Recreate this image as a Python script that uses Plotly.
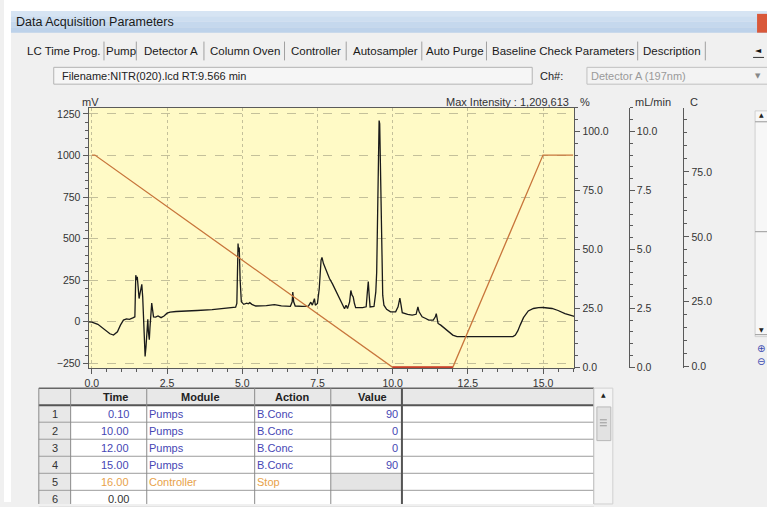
import plotly.graph_objects as go

W, H = 767, 507

# ---------------- data ----------------
chrom_time = [-0.11, 0.0, 0.2, 0.4, 0.6, 0.72, 0.85, 0.95, 1.05, 1.15, 1.25, 1.38, 1.43, 1.46, 1.49, 1.51,
              1.54, 1.57, 1.6, 1.66, 1.69, 1.73, 1.77, 1.8, 1.84, 1.86, 1.88, 1.91, 1.93, 1.96, 1.99,
              2.02, 2.05, 2.12, 2.2, 2.3, 2.4, 2.5, 2.6, 2.8, 3.0, 3.5, 4.0, 4.5, 4.78, 4.82, 4.86,
              4.88, 4.9, 4.93, 4.97, 5.05, 5.15, 5.2, 5.25, 5.32, 5.45, 5.8, 6.07, 6.3, 6.6, 6.66,
              6.68, 6.71, 6.76, 7.0, 7.2, 7.28, 7.33, 7.4, 7.43, 7.5, 7.56, 7.62, 7.65, 7.7, 7.8,
              7.9, 8.0, 8.15, 8.3, 8.4, 8.45, 8.5, 8.57, 8.61, 8.65, 8.69, 8.73, 8.77, 9.0, 9.12,
              9.16, 9.19, 9.22, 9.25, 9.38, 9.44, 9.47, 9.5, 9.53, 9.55, 9.57, 9.6, 9.63, 9.67,
              9.71, 9.8, 9.93, 10.1, 10.18, 10.24, 10.28, 10.32, 10.5, 10.65, 10.78, 10.84, 10.88,
              10.98, 11.1, 11.2, 11.35, 11.42, 11.45, 11.49, 11.51, 11.6, 11.7, 11.87, 12.0, 12.14,
              13.0, 14.0, 14.08, 14.16, 14.24, 14.35, 14.51, 14.68, 14.85, 15.0, 15.3, 15.5, 15.73,
              16.04]
chrom_mv = [0, -2, -15, -45, -72, -80, -60, -20, 10, 18, 15, 25, 30, 280, 250, 270,
            200, 140, 170, 225, 150, -50, -208, -150, -20, 15, -60, -107, -40, 80, 113,
            70, 30, 28, 35, 25, 35, 52, 58, 62, 63, 68, 73, 80, 88, 110, 470,
            420, 446, 250, 120, 105, 112, 108, 115, 105, 95, 97, 103, 96, 93, 120,
            179, 120, 95, 93, 94, 118, 100, 139, 100, 110, 200, 370, 387, 350, 300,
            260, 228, 170, 115, 78, 100, 80, 120, 188, 160, 149, 110, 85, 85, 90,
            180, 242, 160, 89, 92, 180, 300, 700, 1150, 1210, 1190, 900, 380, 160,
            100, 75, 60, 60, 90, 143, 100, 55, 45, 40, 45, 89, 60,
            30, 20, 10, 10, 30, 49, 20, -10, -20, -35, -60, -80, -89,
            -89, -89, -80, -55, -20, 25, 65, 80, 85, 86, 80, 68, 49,
            32]

table_rows = ["1", "2", "3", "4", "5", "6"]
table_time = ["0.10", "10.00", "12.00", "15.00", "16.00", "0.00"]
table_module = ["Pumps", "Pumps", "Pumps", "Pumps", "Controller", ""]
table_action = ["B.Conc", "B.Conc", "B.Conc", "B.Conc", "Stop", ""]
table_value = ["90", "0", "0", "90", "", ""]
table_headers = ["Time", "Module", "Action", "Value"]
initial_bconc = 90.0
program_end = 16.0

tab_labels = ["LC Time Prog.", "Pump", "Detector A", "Column Oven", "Controller",
              "Autosampler", "Auto Purge", "Baseline Check Parameters", "Description"]

window_title = "Data Acquisition Parameters"
file_text = "Filename:NITR(020).lcd RT:9.566 min"
channel_text = "Detector A (197nm)"
max_text = "Max Intensity : 1,209,613"

# gradient program (B.Conc %) derived from the time program table
grad_t = [0.0]
grad_v = [initial_bconc]
for t, a, v in zip(table_time, table_action, table_value):
    if a == "B.Conc":
        grad_t.append(float(t))
        grad_v.append(float(v))
grad_t.append(program_end)
grad_v.append(grad_v[-1])
# hold segments at 0 % (drawn darker in the reference)
zero_t, zero_v = [], []
for i in range(len(grad_t) - 1):
    if grad_v[i] == 0 and grad_v[i + 1] == 0:
        zero_t += [grad_t[i], grad_t[i + 1], None]
        zero_v += [0, 0, None]

# ---------------- helpers ----------------
def px(x):
    return x / W


def py(y):
    return 1 - y / H


shapes = []
annotations = []
FONT = "Liberation Sans, Arial, sans-serif"


def rect(x0, y0, x1, y1, fill, line=None, lw=1):
    shapes.append(dict(type="rect", xref="paper", yref="paper", layer="below",
                       x0=px(x0), x1=px(x1), y0=py(y1), y1=py(y0),
                       fillcolor=fill,
                       line=dict(color=line if line else fill, width=lw if line else 0)))


def hline(x0, x1, y, color, lw=1):
    shapes.append(dict(type="line", xref="paper", yref="paper", layer="below",
                       x0=px(x0), x1=px(x1), y0=py(y), y1=py(y), line=dict(color=color, width=lw)))


def vline(x, y0, y1, color, lw=1):
    shapes.append(dict(type="line", xref="paper", yref="paper", layer="below",
                       x0=px(x), x1=px(x), y0=py(y0), y1=py(y1), line=dict(color=color, width=lw)))


def text(x, y, s, size=11, color="#222", anchor="left", bold=False, family=FONT):
    if bold:
        s = "<b>" + s + "</b>"
    annotations.append(dict(xref="paper", yref="paper", x=px(x), y=py(y), text=s,
                            showarrow=False, xanchor=anchor, yanchor="middle",
                            borderpad=0,
                            font=dict(size=size, color=color, family=family)))


# ---------------- window chrome ----------------
rect(0, 0, W, 11, "white")
rect(0, 0, 7, H, "white")
bands = ["#d6e4f3", "#cddef0", "#c5d8ed", "#bdd2ea"]
for i, c in enumerate(bands):
    rect(7, 11 + i * 5.5, W, 11 + (i + 1) * 5.5, c)
rect(757, 14, W, 33, "#d9583a")
text(11, 22.5, window_title, size=12.5, color="#1a1a1a")

# tabs
tab_seps = [100.5, 133, 201, 282, 344, 420, 485, 637, 705]
tab_left = [18] + tab_seps[:-1]
for lbl, a, b in zip(tab_labels, tab_left, tab_seps):
    text((a + b) / 2 + 1, 51.5, lbl, size=11.5, color="#1a1a1a", anchor="center")
for s in tab_seps:
    vline(s, 42, 61, "#a0a0a0", 1)
text(758, 51, "◄", size=8, color="#111", anchor="center", family="DejaVu Sans")
hline(753, 764, 58, "#333", 1)

# filename / channel boxes
rect(50, 68, 531, 85, "#f6f6f6", "#b4b4b4", 1)
text(57, 76.5, file_text, size=11, color="#222")
text(538, 76.5, "Ch#:", size=11, color="#222")
rect(586, 68, W + 2, 85, "#f3f3f3", "#c0c0c0", 1)
text(589, 76.5, channel_text, size=11, color="#9a9a9a")
text(758, 77, "▼", size=7, color="#888", anchor="center", family="DejaVu Sans")

# right side strip
rect(755, 112, W + 2, 340, "#f7f7f7", "#d0d0d0", 1)
text(761, 116, "▲", size=6, color="#222", anchor="center", family="DejaVu Sans")
hline(755, W, 123, "#999", 1)
hline(755, W, 234, "#999", 1)
text(761, 333, "▼", size=6, color="#222", anchor="center", family="DejaVu Sans")
hline(755, W, 338, "#999", 1)
text(761, 352, "⊕", size=10, color="#3a4ab0", anchor="center", family="DejaVu Sans")
text(761, 365, "⊖", size=10, color="#3a4ab0", anchor="center", family="DejaVu Sans")

# chart labels
text(87, 103, "mV", size=11, color="#333", anchor="center")
text(569, 103, max_text, size=11, color="#333", anchor="right")
text(578, 103, "%", size=11, color="#333")
text(652, 103, "mL/min", size=11, color="#333", anchor="center")
text(694, 103, "C", size=11, color="#333", anchor="center")

# ---------------- table ----------------
col_edges = [35, 67, 143.5, 252, 328.5, 400, 593]
row_top = 392
row_h = 17.2
n_rows = len(table_rows)
row_edges = [row_top + i * row_h for i in range(n_rows + 2)]
rect(35, row_top, 612, H + 2, "white")
rect(35, row_top, 593, row_edges[1], "#e8e8e8")
rect(35, row_top, 67, H + 2, "#e8e8e8")
for i, v in enumerate(table_value):
    if table_action[i] == "Stop":
        rect(col_edges[4], row_edges[i + 1], col_edges[5], row_edges[i + 2], "#e4e4e4")
for y in row_edges[2:]:
    hline(35, 593, y, "#9c9c9c", 1)
hline(35, 593, row_edges[1], "#555", 2)
hline(35, 593, row_top, "#666", 1.5)
for x in col_edges:
    vline(x, row_top, H + 2, "#8a8a8a", 1)
vline(col_edges[5], row_top, H + 2, "#555", 2)
rect(593, row_top, 612, H + 2, "#f4f4f4", "#d0d0d0", 1)
text(602.5, 398, "▲", size=6, color="#222", anchor="center", family="DejaVu Sans")
rect(596, 411, 610, 445, "#e2e2e2", "#b8b8b8", 1)
for gy in (424, 427, 430):
    hline(599, 606, gy, "#999", 1)

header_x = [112, 197.5, 290, 370]
for hx, h in zip(header_x, table_headers):
    text(hx, (row_edges[0] + row_edges[1]) / 2, h, size=11, color="#222", anchor="center", bold=True)

for i in range(n_rows):
    yc = (row_edges[i + 1] + row_edges[i + 2]) / 2
    if table_action[i] == "Stop":
        c = "#e8a24a"
    elif table_module[i]:
        c = "#4646b4"
    else:
        c = "#333"
    text(51, yc, table_rows[i], size=11, color="#333", anchor="center")
    text(127, yc, table_time[i], size=11, color=c, anchor="right")
    text(145, yc, table_module[i], size=11, color=c)
    text(253, yc, table_action[i], size=11, color=c)
    text(397, yc, table_value[i], size=11, color=c, anchor="right")

# ---------------- figure ----------------
fig = go.Figure()
fig.add_trace(go.Scatter(x=grad_t, y=grad_v, mode="lines", yaxis="y2",
                         line=dict(color="#c8763c", width=1.3), hoverinfo="skip", showlegend=False))
fig.add_trace(go.Scatter(x=zero_t, y=zero_v, mode="lines", yaxis="y2", cliponaxis=False,
                         line=dict(color="#c8402a", width=2.2), hoverinfo="skip", showlegend=False))
fig.add_trace(go.Scatter(x=chrom_time, y=chrom_mv, mode="lines", yaxis="y",
                         line=dict(color="#1a1a1a", width=1.3), hoverinfo="skip", showlegend=False))
fig.add_trace(go.Scatter(x=[None], y=[None], yaxis="y3", showlegend=False, hoverinfo="skip"))
fig.add_trace(go.Scatter(x=[None], y=[None], yaxis="y4", showlegend=False, hoverinfo="skip"))

AX = "#5a5a5a"
TF = dict(size=10.5, color="#333", family=FONT)
y_dom = [py(371.7), py(109)]

common = dict(ticks="outside", ticklen=5, tickcolor=AX, showline=True, linecolor=AX,
              linewidth=1, zeroline=False, tickfont=TF)

fig.update_layout(
    width=W, height=H, autosize=False,
    margin=dict(l=0, r=0, t=0, b=0),
    paper_bgcolor="#f0f0f0", plot_bgcolor="#fffac6",
    showlegend=False,
    shapes=shapes, annotations=annotations,
    xaxis=dict(domain=[px(85), px(573.3)], range=[-0.11, 16.04], tick0=0, dtick=2.5,
               tickformat=".1f", mirror=True, showgrid=True, gridcolor="#c4c09a",
               griddash="dot", gridwidth=1,
               minor=dict(dtick=0.5, tick0=0, ticks="outside", ticklen=3, tickcolor=AX, showgrid=False),
               **common),
    yaxis=dict(domain=y_dom, range=[-278, 1286], tick0=0, dtick=250, showgrid=True,
               gridcolor="#c4c09a", griddash="dash", gridwidth=1,
               minor=dict(dtick=50, tick0=0, ticks="outside", ticklen=3, tickcolor=AX, showgrid=False),
               **common),
    yaxis2=dict(overlaying="y", side="right", anchor="x", range=[-0.3, 110], tick0=0, dtick=25,
                tickformat=".1f", showgrid=False,
                minor=dict(dtick=5, tick0=0, ticks="outside", ticklen=3, tickcolor=AX, showgrid=False),
                **common),
    yaxis3=dict(overlaying="y", side="right", anchor="free", position=px(628), range=[-0.03, 11],
                tick0=0, dtick=2.5, tickformat=".1f", showgrid=False,
                minor=dict(dtick=0.5, tick0=0, ticks="outside", ticklen=3, tickcolor=AX, showgrid=False),
                **common),
    yaxis4=dict(overlaying="y", side="right", anchor="free", position=px(683), range=[-0.5, 99.6],
                tick0=0, dtick=25, tickformat=".1f", showgrid=False,
                minor=dict(dtick=5, tick0=0, ticks="outside", ticklen=3, tickcolor=AX, showgrid=False),
                **common),
)

fig.write_html("out.html", config={"displayModeBar": False},
               post_script="document.body.style.margin='0';document.body.style.overflow='hidden';")
